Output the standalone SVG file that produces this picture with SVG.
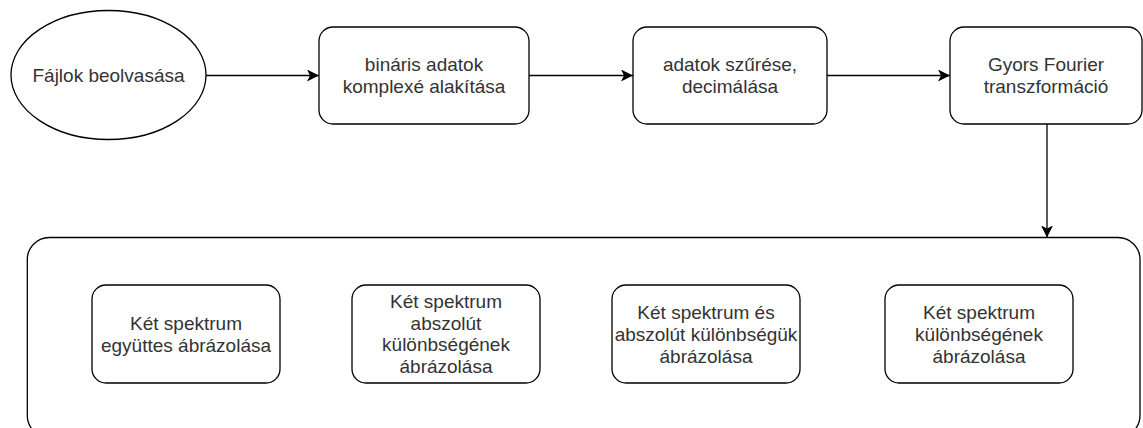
<svg xmlns="http://www.w3.org/2000/svg" width="1143" height="428" viewBox="0 0 1143 428">
<style>
.shape{fill:#ffffff;stroke:#000000;stroke-width:1.3}
.conn{fill:none;stroke:#000000;stroke-width:1.3}
.lbl{font-family:"Liberation Sans",Arial,sans-serif;font-size:19px;fill:#333333;text-anchor:middle}
</style>
<defs>
<marker id="arr" viewBox="0 0 12 12" refX="12" refY="6" markerWidth="12" markerHeight="12" markerUnits="userSpaceOnUse" orient="auto">
<path d="M0,0 L12,6 L0,12 L3,6 Z" fill="#000000"/>
</marker>
</defs>
<rect width="1143" height="428" fill="#ffffff"/>
<g id="container">
<rect class="shape" x="27.3" y="237.5" width="1112.7" height="200" rx="22" ry="22"/>
</g>
<g id="n-fajlok">
<ellipse class="shape" cx="108.5" cy="75" rx="97.5" ry="64.5"/>
<text class="lbl" x="108.5" y="82">Fájlok beolvasása</text>
</g>
<g id="n-binaris">
<rect class="shape" x="319" y="27" width="210" height="97" rx="14" ry="14"/>
<text class="lbl" x="424" y="71">bináris adatok</text>
<text class="lbl" x="424" y="93">komplexé alakítása</text>
</g>
<g id="n-szures">
<rect class="shape" x="633" y="27" width="194" height="97" rx="14" ry="14"/>
<text class="lbl" x="730" y="71">adatok szűrése,</text>
<text class="lbl" x="730" y="93">decimálása</text>
</g>
<g id="n-fft">
<rect class="shape" x="950" y="27" width="192" height="97" rx="14" ry="14"/>
<text class="lbl" x="1046" y="71">Gyors Fourier</text>
<text class="lbl" x="1046" y="93">transzformáció</text>
</g>
<g id="n-egyuttes">
<rect class="shape" x="92" y="285" width="188" height="98" rx="14" ry="14"/>
<text class="lbl" x="186" y="330">Két spektrum</text>
<text class="lbl" x="186" y="352">együttes ábrázolása</text>
</g>
<g id="n-abszolut">
<rect class="shape" x="352" y="285" width="188" height="98" rx="14" ry="14"/>
<text class="lbl" x="446" y="308">Két spektrum</text>
<text class="lbl" x="446" y="329.5">abszolút</text>
<text class="lbl" x="446" y="351">különbségének</text>
<text class="lbl" x="446" y="372.5">ábrázolása</text>
</g>
<g id="n-es-abszolut">
<rect class="shape" x="612" y="285" width="188" height="98" rx="14" ry="14"/>
<text class="lbl" x="706" y="319">Két spektrum és</text>
<text class="lbl" x="706" y="341">abszolút különbségük</text>
<text class="lbl" x="706" y="363">ábrázolása</text>
</g>
<g id="n-kulonbseg">
<rect class="shape" x="885" y="285" width="188" height="98" rx="14" ry="14"/>
<text class="lbl" x="979" y="319">Két spektrum</text>
<text class="lbl" x="979" y="341">különbségének</text>
<text class="lbl" x="979" y="363">ábrázolása</text>
</g>
<g id="connectors">
<line class="conn" x1="206" y1="75.5" x2="319" y2="75.5" marker-end="url(#arr)"/>
<line class="conn" x1="529" y1="75.5" x2="633" y2="75.5" marker-end="url(#arr)"/>
<line class="conn" x1="827" y1="75.5" x2="950" y2="75.5" marker-end="url(#arr)"/>
<line class="conn" x1="1047" y1="124" x2="1047" y2="237.5" marker-end="url(#arr)"/>
</g>
</svg>
